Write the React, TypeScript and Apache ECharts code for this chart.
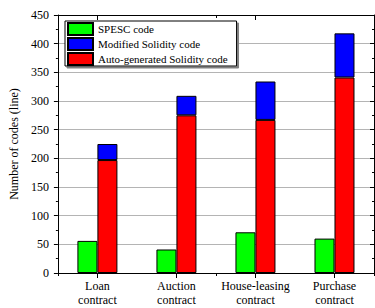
import React, { useEffect, useRef } from "react";
import * as echarts from "echarts";

const categories = ["Loan\ncontract", "Auction\ncontract", "House-leasing\ncontract", "Purchase\ncontract"];
const spescCode = [56, 41, 71, 60];
const modifiedSolidity = [225, 309, 334, 418];
const autoSolidity = [197, 275, 267, 341];
const yTicks = { min: 0, max: 450, interval: 50 };

const FONT = "Liberation Serif";

export default function App() {
  const ref = useRef<HTMLDivElement>(null);
  useEffect(() => {
    if (!ref.current) return;
    const chart = echarts.init(ref.current, undefined, { renderer: "svg" });
    const modifiedExtra = modifiedSolidity.map((v, i) => v - autoSolidity[i]);
    const border = { borderColor: "#000", borderWidth: 1 };
    const txt = { fontFamily: FONT, color: "#000" };
    chart.setOption({
      animation: false,
      textStyle: { fontFamily: FONT },
      grid: { left: 53, right: 1, top: 15, bottom: 35 },
      legend: {
        orient: "vertical",
        left: 65,
        top: 21,
        padding: [1, 9, 0, 2],
        itemGap: 1,
        itemWidth: 25,
        itemHeight: 12,
        itemTextGap: 4,
        icon: "rect",
        backgroundColor: "#fff",
        borderColor: "#000",
        borderWidth: 1,
        shadowColor: "#808080",
        shadowBlur: 0,
        shadowOffsetX: 2,
        shadowOffsetY: 2,
        z: 10,
        data: ["SPESC code", "Modified Solidity code", "Auto-generated Solidity code"],
        textStyle: { ...txt, fontSize: 11, lineHeight: 14 },
      },
      xAxis: [
        {
          type: "category",
          data: categories,
          position: "bottom",
          boundaryGap: true,
          axisLine: { lineStyle: { color: "#000", width: 1 } },
          axisTick: { show: true, alignWithLabel: true, inside: false, length: 5, lineStyle: { color: "#000" } },
          axisLabel: { ...txt, fontSize: 12, margin: 6, lineHeight: 14, interval: 0 },
        },
        {
          type: "category",
          data: categories,
          position: "bottom",
          boundaryGap: true,
          axisLine: { show: false },
          axisTick: { show: true, inside: false, length: 3, lineStyle: { color: "#000" } },
          axisLabel: { show: false },
        },
        {
          type: "category",
          data: categories,
          position: "top",
          boundaryGap: true,
          axisLine: { lineStyle: { color: "#000", width: 1 } },
          axisTick: { show: true, alignWithLabel: true, inside: true, length: 5, lineStyle: { color: "#000" } },
          axisLabel: { show: false },
        },
        {
          type: "category",
          data: categories,
          position: "top",
          boundaryGap: true,
          axisLine: { show: false },
          axisTick: { show: true, inside: true, length: 3, lineStyle: { color: "#000" } },
          axisLabel: { show: false },
        },
      ],
      yAxis: [
        {
          type: "value",
          min: yTicks.min,
          max: yTicks.max,
          interval: yTicks.interval,
          position: "left",
          name: "Number of codes (line)",
          nameLocation: "middle",
          nameGap: 35,
          nameTextStyle: { ...txt, fontSize: 12 },
          axisLine: { show: true, lineStyle: { color: "#000", width: 1 } },
          axisTick: { show: true, inside: false, length: 4, lineStyle: { color: "#000" } },
          minorTick: { show: true, splitNumber: 2, length: 2, lineStyle: { color: "#000" } },
          axisLabel: { ...txt, fontSize: 12, margin: 9 },
          splitLine: { show: true, lineStyle: { color: "#b4b4b4", width: 1 } },
        },
        {
          type: "value",
          min: yTicks.min,
          max: yTicks.max,
          interval: yTicks.interval,
          position: "right",
          axisLine: { show: true, lineStyle: { color: "#000", width: 1 } },
          axisTick: { show: true, inside: true, length: 4, lineStyle: { color: "#000" } },
          minorTick: { show: true, splitNumber: 2, length: 2, lineStyle: { color: "#000" } },
          axisLabel: { show: false },
          splitLine: { show: false },
        },
      ],
      series: [
        {
          name: "SPESC code",
          type: "bar",
          stack: "a",
          data: spescCode,
          barWidth: 20,
          barGap: "0%",
          itemStyle: { color: "#00ff00", ...border },
        },
        {
          name: "Auto-generated Solidity code",
          type: "bar",
          stack: "b",
          data: autoSolidity,
          barWidth: 20,
          barGap: "0%",
          itemStyle: { color: "#ff0000", ...border },
        },
        {
          name: "Modified Solidity code",
          type: "bar",
          stack: "b",
          data: modifiedExtra,
          barWidth: 20,
          barGap: "0%",
          itemStyle: { color: "#0000ff", ...border },
        },
      ],
    });
    return () => chart.dispose();
  }, []);
  return <div ref={ref} style={{ width: 375, height: 308, position: "absolute", left: 0, top: 0 }} />;
}
